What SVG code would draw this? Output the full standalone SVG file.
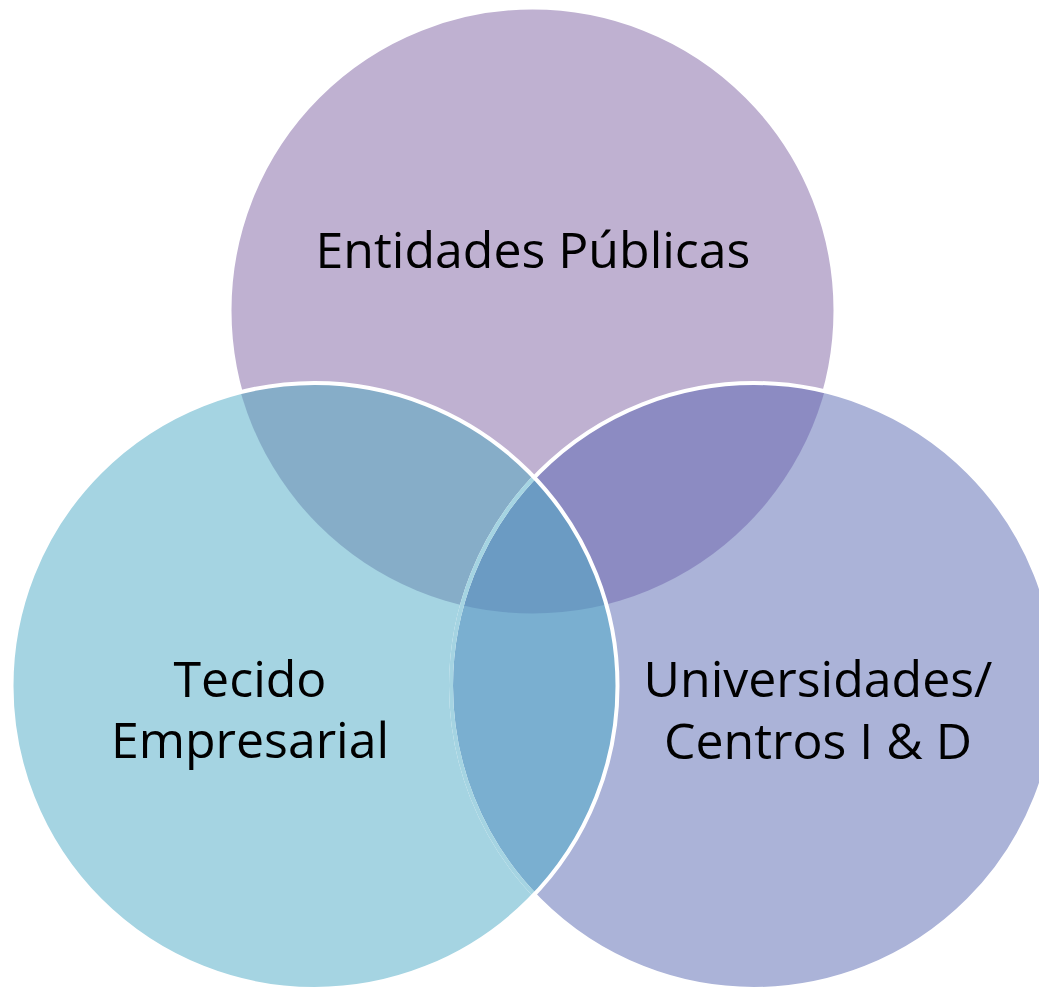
<svg xmlns="http://www.w3.org/2000/svg" width="1039" height="989" viewBox="0 0 1039 989">
  <style>
    .lbl { font-family: "Open Sans", "Noto Sans", "DejaVu Sans", sans-serif; font-size: 50px; fill: #000; text-anchor: middle; }
  </style>
  <defs>
    <clipPath id="cT"><circle cx="532.5" cy="310.5" r="303"/></clipPath>
    <clipPath id="cL"><circle cx="314.5" cy="686" r="303"/></clipPath>
    <clipPath id="cR"><circle cx="754" cy="686" r="303"/></clipPath>
  </defs>
  <rect width="1039" height="989" fill="#fff"/>

  <g id="node-top">
    <circle cx="532.5" cy="310.5" r="303" fill="#BFB1D1" stroke="#fff" stroke-width="4"/>
    <text class="lbl" x="533" y="268">Entidades Públicas</text>
  </g>
  <g id="node-left">
    <circle cx="314.5" cy="686" r="303" fill="#A5D4E2"/>
    <text class="lbl" x="250" y="697">Tecido</text>
    <text class="lbl" x="250" y="758">Empresarial</text>
  </g>
  <g id="node-right">
    <circle cx="754" cy="686" r="303" fill="#ABB3D8"/>
    <text class="lbl" x="818" y="697">Universidades/</text>
    <text class="lbl" x="818" y="759">Centros I &amp; D</text>
  </g>

  <g id="overlaps">
    <circle cx="532.5" cy="310.5" r="303" fill="#86ADC8" clip-path="url(#cL)"/>
    <circle cx="532.5" cy="310.5" r="303" fill="#8C8BC2" clip-path="url(#cR)"/>
    <circle cx="314.5" cy="686" r="303" fill="#7AAFD0" clip-path="url(#cR)"/>
    <g clip-path="url(#cL)">
      <circle cx="532.5" cy="310.5" r="303" fill="#6B9BC3" clip-path="url(#cR)"/>
    </g>
  </g>

  <g id="connectors">
    <circle cx="754" cy="686" r="303" fill="none" stroke="#fff" stroke-width="4"/>
    <g clip-path="url(#cL)">
      <circle cx="754" cy="686" r="303" fill="none" stroke="#A5D4E2" stroke-width="4"/>
    </g>
    <circle cx="314.5" cy="686" r="303" fill="none" stroke="#fff" stroke-width="4"/>
  </g>
</svg>
